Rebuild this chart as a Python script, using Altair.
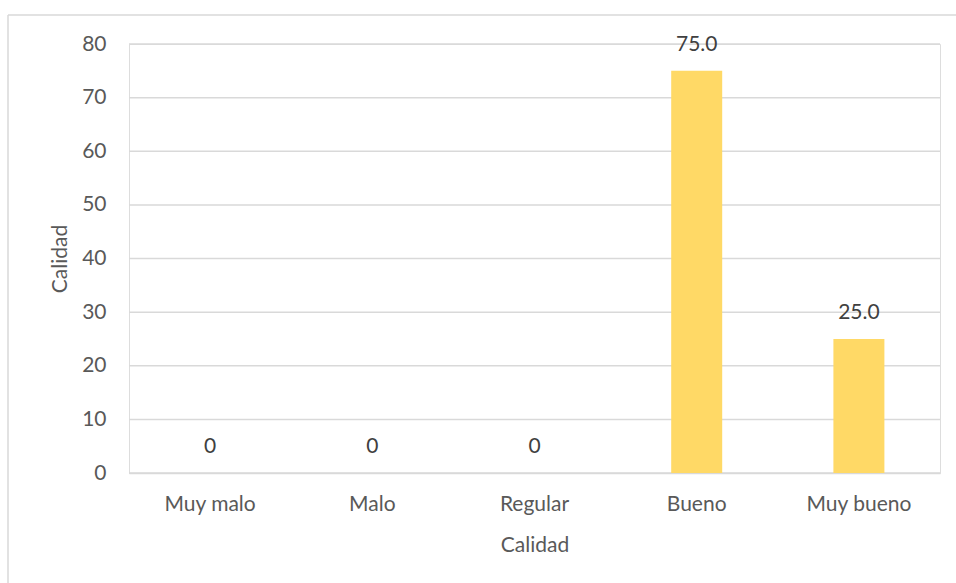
import altair as alt
import pandas as pd

categories = ["Muy malo", "Malo", "Regular", "Bueno", "Muy bueno"]
values = [0, 0, 0, 75.0, 25.0]
y_ticks = [0, 10, 20, 30, 40, 50, 60, 70, 80]

df = pd.DataFrame({"categoria": categories, "valor": values})

FONT = "Lato"
TEXT = "#595959"
GRID = "#D9D9D9"
BAR = "#FFD966"

W, H = 811, 429
LEFT, TOP = 129, 44

x_enc = alt.X(
    "categoria:N",
    sort=categories,
    scale=alt.Scale(paddingInner=0, paddingOuter=0),
    axis=alt.Axis(
        title="Calidad",
        labelAngle=0,
        labelFont=FONT,
        labelFontSize=21,
        labelColor=TEXT,
        labelPadding=20,
        ticks=False,
        grid=False,
        domainColor=GRID,
        domainWidth=1.5,
        titleFont=FONT,
        titleFontSize=21,
        titleFontWeight="normal",
        titleColor=TEXT,
        titleY=72,
        titleBaseline="middle",
    ),
)
y_enc = alt.Y(
    "valor:Q",
    scale=alt.Scale(domain=[0, 80], nice=False),
    axis=alt.Axis(
        title="Calidad",
        values=y_ticks,
        labelFont=FONT,
        labelFontSize=21,
        labelColor=TEXT,
        labelPadding=23,
        ticks=False,
        domain=False,
        grid=False,
        titleFont=FONT,
        titleFontSize=21,
        titleFontWeight="normal",
        titleColor=TEXT,
        titleX=-69,
        titleY=H / 2,
        titleBaseline="middle",
        titleAngle=-90,
    ),
)

base = alt.Chart(df)

# horizontal gridlines at each y tick
grid = (
    alt.Chart(pd.DataFrame({"tick": y_ticks}))
    .mark_rule(stroke=GRID, strokeWidth=1.5)
    .encode(y=alt.Y("tick:Q"), x=alt.value(0), x2=alt.value(W))
)

bars = base.mark_bar(size=51, color=BAR).encode(x=x_enc, y=y_enc)

labels = (
    base.transform_calculate(
        etiqueta="datum.valor == 0 ? '0' : format(datum.valor, '.1f')"
    )
    .mark_text(font=FONT, fontSize=21, color="#404040", baseline="middle", dy=-26)
    .encode(x=alt.X("categoria:N", sort=categories), y="valor:Q", text="etiqueta:N")
)

# light outer frame: top and left edges of the chart box
frame_top = (
    alt.Chart(pd.DataFrame({"k": [0]}))
    .mark_rule(stroke=GRID, strokeWidth=1.5)
    .encode(x=alt.value(8 - LEFT), x2=alt.value(956 - LEFT), y=alt.value(15 - TOP))
)
frame_left = (
    alt.Chart(pd.DataFrame({"k": [0]}))
    .mark_rule(stroke=GRID, strokeWidth=1.5)
    .encode(x=alt.value(8 - LEFT), y=alt.value(15 - TOP), y2=alt.value(583 - TOP))
)

chart = (
    alt.layer(frame_top, frame_left, grid, bars, labels)
    .properties(
        width=W,
        height=H,
        autosize=alt.AutoSizeParams(type="none"),
        padding={"left": LEFT, "top": TOP, "right": 956 - LEFT - W, "bottom": 583 - TOP - H},
    )
    .configure_view(stroke=None)
    .configure(background="white")
)

chart.save("out.html", embed_options={"renderer": "svg", "actions": False})
